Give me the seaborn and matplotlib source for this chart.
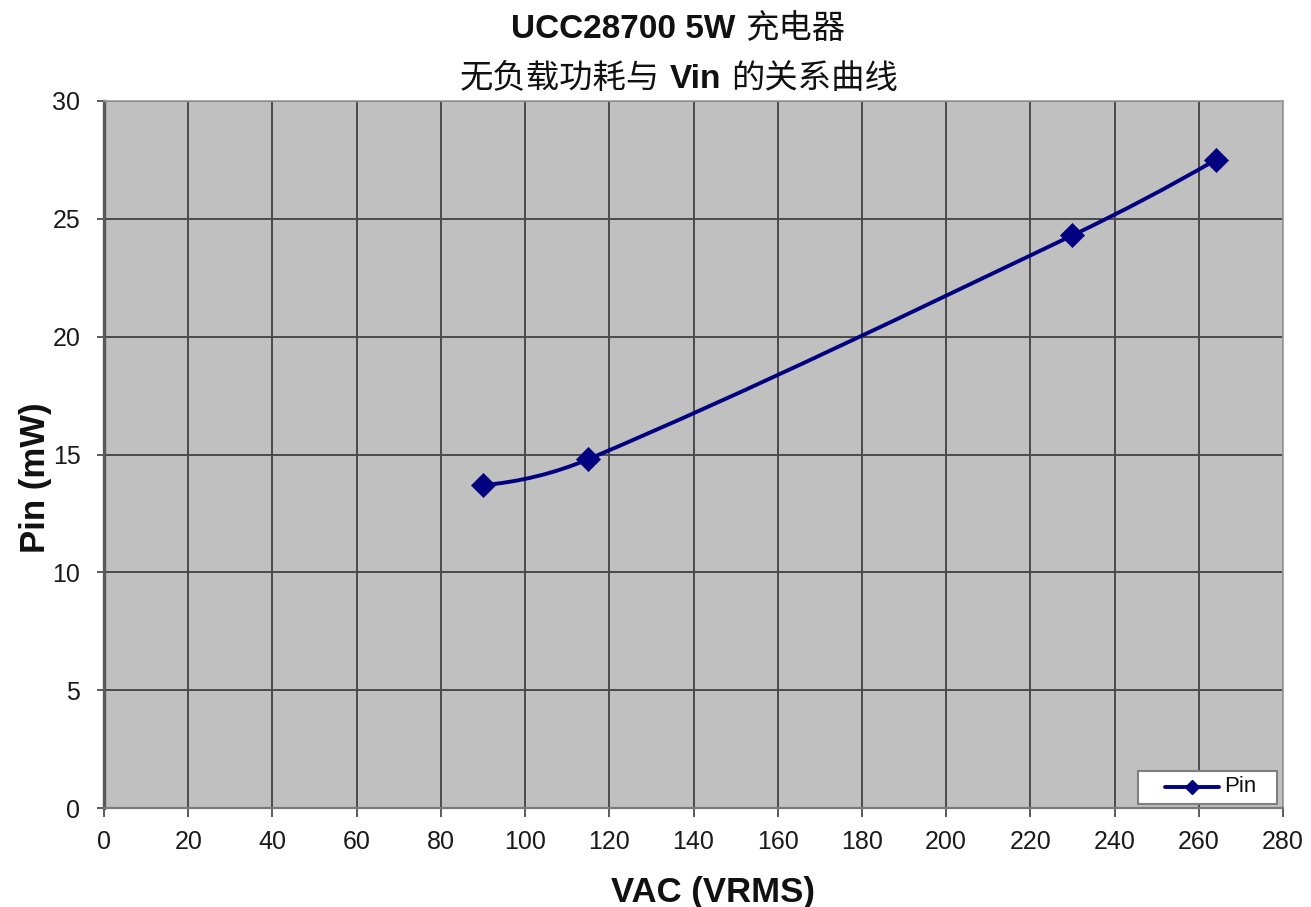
import numpy as np
import matplotlib
matplotlib.use("Agg")
import matplotlib.pyplot as plt
import seaborn as sns
from matplotlib.path import Path
from matplotlib.patches import PathPatch, Rectangle
from matplotlib.lines import Line2D
from matplotlib.transforms import IdentityTransform

# ---- data ----
vac = [90, 115, 230, 264]
pin = [13.7, 14.8, 24.3, 27.5]
series_name = "Pin"
x_ticks = list(range(0, 281, 20))
y_ticks = list(range(0, 31, 5))
x_label = "VAC (VRMS)"
y_label = "Pin (mW)"
title_1 = [("UCC28700 5W", "bold"), ("充电器", "cjk")]
title_2 = [("无负载功耗与", "cjk"), ("Vin", "bold"), ("的关系曲线", "cjk")]

sns.set_theme(style="white")
plt.rcParams["font.family"] = ["Liberation Sans", "Noto Sans CJK SC", "DejaVu Sans"]

W, H = 1311, 907
fig = plt.figure(figsize=(W / 100, H / 100), dpi=100)
fig.patch.set_facecolor("white")

def fx(px):
    return px / W

def fy(py):
    return 1 - py / H

L, R, T, B = 104, 1283, 101, 808
ax = fig.add_axes([fx(L), fy(B), (R - L) / W, (B - T) / H])
ax.set_facecolor("#C0C0C0")
ax.set_xlim(0, 280)
ax.set_ylim(0, 30)
ax.set_xticks(x_ticks)
ax.set_yticks(y_ticks)
ax.grid(True, color="#4a4a4a", linewidth=1.4)
ax.set_axisbelow(True)

for s in ["top", "right"]:
    ax.spines[s].set_color("#9a9a9a")
    ax.spines[s].set_linewidth(1.2)
ax.spines["left"].set_color("#5a5a5a")
ax.spines["left"].set_linewidth(2.4)
ax.spines["bottom"].set_color("#7a7a7a")
ax.spines["bottom"].set_linewidth(1.6)

ax.tick_params(axis="x", bottom=True, direction="out", length=6.5, width=1.2,
               color="#404040", labelsize=18, pad=9, labelcolor="#1a1a1a")
ax.tick_params(axis="y", left=True, direction="out", length=5, width=1.2,
               color="#404040", labelsize=18, pad=12, labelcolor="#1a1a1a")
ax.set_xlabel("")
ax.set_ylabel("")

# ---- smooth curve (Excel-like smoothed line) through the data points ----
pts = ax.transData.transform(np.column_stack([vac, pin]))
n = len(pts)

def unit(v):
    return v / np.linalg.norm(v)

tangents = [None] * n
for i in range(1, n - 1):
    tangents[i] = unit(pts[i + 1] - pts[i - 1])
# parabolic end conditions
tangents[0] = unit(2 * unit(pts[1] - pts[0]) - tangents[1])
tangents[-1] = unit(2 * unit(pts[-1] - pts[-2]) - tangents[-2])

verts = [pts[0]]
codes = [Path.MOVETO]
for i in range(n - 1):
    seg = np.linalg.norm(pts[i + 1] - pts[i])
    verts += [pts[i] + tangents[i] * seg / 3, pts[i + 1] - tangents[i + 1] * seg / 3, pts[i + 1]]
    codes += [Path.CURVE4] * 3
curve = PathPatch(Path(verts, codes), transform=IdentityTransform(), fill=False,
                  edgecolor="#000080", linewidth=2.8, zorder=3, capstyle="round",
                  joinstyle="round")
ax.add_patch(curve)

sns.scatterplot(x=vac, y=pin, marker="D", s=150, color="#000080",
                edgecolor="#000080", linewidth=0.5, zorder=4, legend=False, ax=ax)
ax.set_xlim(0, 280)
ax.set_ylim(0, 30)

# ---- axis labels ----
fig.text(fx(713), fy(902), x_label, ha="center", va="baseline", fontsize=25,
         fontweight="bold", family=["Liberation Sans", "DejaVu Sans"], color="#111111")
fig.text(fx(35), fy(478), y_label, ha="center", va="center", rotation=90, fontsize=25,
         fontweight="bold", family=["Liberation Sans", "DejaVu Sans"], color="#111111")

# ---- title with mixed fonts ----
def draw_line(parts, cx, y_base, size, gap):
    texts = []
    for s, kind in parts:
        if kind == "bold":
            t = fig.text(0, fy(y_base), s, fontsize=size, fontweight="bold",
                         family=["Liberation Sans", "DejaVu Sans"], va="baseline",
                         ha="left", color="#111111")
        else:
            t = fig.text(0, fy(y_base), s, fontsize=size,
                         family=["Noto Sans CJK SC", "DejaVu Sans"], va="baseline",
                         ha="left", color="#111111")
        texts.append(t)
    fig.canvas.draw()
    r = fig.canvas.get_renderer()
    widths = [t.get_window_extent(r).width for t in texts]
    total = sum(widths) + gap * (len(texts) - 1)
    x = cx - total / 2
    for t, w in zip(texts, widths):
        t.set_x(fx(x))
        x += w + gap

draw_line(title_1, 678, 38, 24, 10)
draw_line(title_2, 679, 88, 24, 10)

# ---- legend ----
fig.add_artist(Rectangle((fx(1138), fy(804)), 139 / W, 33 / H, transform=fig.transFigure,
                         facecolor="white", edgecolor="#7f7f7f", linewidth=1.5, zorder=5))
fig.add_artist(Line2D([fx(1165), fx(1219)], [fy(787), fy(787)], transform=fig.transFigure,
                      color="#000080", linewidth=2.8, marker=None, zorder=6))
fig.add_artist(Line2D([fx(1192)], [fy(787)], transform=fig.transFigure, color="#000080",
                      marker="D", markersize=7, zorder=7))
fig.text(fx(1224), fy(787), series_name, ha="left", va="center", fontsize=16,
         family=["Liberation Sans", "DejaVu Sans"], color="#111111", zorder=8)

fig.savefig("out.png", dpi=100)
